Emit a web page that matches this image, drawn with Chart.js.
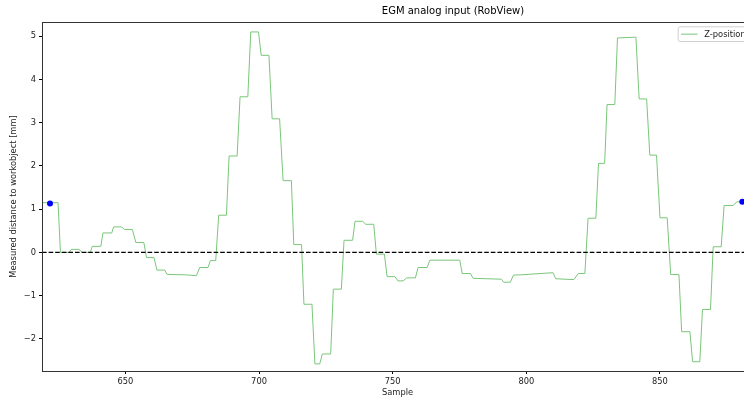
<!DOCTYPE html>
<html>
<head>
<meta charset="utf-8">
<script src="https://cdn.jsdelivr.net/npm/chart.js@4.4.1/dist/chart.umd.min.js"></script>
<style>
  html, body { margin: 0; padding: 0; overflow: hidden; background: #fff; }
  canvas { display: block; }
</style>
</head>
<body>
<canvas id="egmChart" width="906" height="399"></canvas>
<script>
// Z-position trace (sample, mm) at the step corners
const sampleX = [618, 624.8, 625.7, 628.9, 629.8, 632.6, 633.9, 636.9, 637.6, 640.8,
  641.6, 644.9, 645.6, 648.5, 649.7, 652.6, 653.9, 656.9, 657.9, 660.7,
  661.8, 664.7, 665.6, 672.8, 676.6, 677.8, 680.9, 681.8, 683.8, 684.9,
  687.8, 688.8, 691.8, 692.9, 695.8, 696.9, 699.8, 700.8, 703.7, 704.9,
  707.7, 709, 712.1, 713, 715.9, 716.8, 719.8, 720.9, 722.7, 723.7,
  726.8, 727.8, 730.8, 731.8, 735, 735.9, 738.7, 739.9, 742.9, 743.9,
  746.9, 747.9, 750.8, 752, 753.9, 755.2, 758.5, 759.5, 762.9, 763.9,
  775.1, 776, 779.1, 780.1, 790.7, 791.5, 794, 795.2, 797.6, 810,
  811, 817.8, 819.4, 821.9, 823.1, 826, 827, 829.3, 830.2, 833.1,
  834.1, 841, 842.2, 845, 846.2, 848.7, 850, 852.7, 854, 857.1,
  858.1, 861.2, 862.2, 864.9, 865.9, 868.9, 869.9, 872.9, 874, 877.4,
  878.7, 886];
const zPos = [1.15, 1.15, 0.0, 0.0, 0.07, 0.07, 0.0, 0.0, 0.14, 0.14,
  0.45, 0.45, 0.59, 0.59, 0.53, 0.53, 0.23, 0.23, -0.12, -0.12,
  -0.41, -0.41, -0.51, -0.52, -0.54, -0.35, -0.35, -0.19, -0.19, 0.86,
  0.86, 2.23, 2.23, 3.6, 3.6, 5.1, 5.1, 4.56, 4.56, 3.09,
  3.09, 1.66, 1.66, 0.18, 0.18, -1.2, -1.2, -2.58, -2.58, -2.35,
  -2.35, -0.85, -0.85, 0.28, 0.28, 0.72, 0.72, 0.65, 0.65, -0.04,
  -0.04, -0.56, -0.56, -0.66, -0.66, -0.59, -0.59, -0.35, -0.35, -0.18,
  -0.18, -0.49, -0.49, -0.6, -0.62, -0.69, -0.69, -0.525, -0.52, -0.47,
  -0.61, -0.63, -0.49, -0.49, 0.79, 0.79, 2.06, 2.06, 3.42, 3.42,
  4.96, 4.98, 3.55, 3.55, 2.25, 2.25, 0.8, 0.8, -0.51, -0.51,
  -1.835, -1.835, -2.53, -2.53, -1.32, -1.32, 0.13, 0.13, 1.085, 1.085,
  1.17, 1.17];

// blue markers at start / end sample
const markerX = [621.8, 880.8];
const markerY = [1.13, 1.17];

// axis limits and ticks
const xLimits = [618.8, 884.8];
const yLimits = [-2.744, 5.33];
const xTickStep = 50;
const yTickStep = 1;

const toPoints = (xs, ys) => xs.map((x, i) => ({ x: x, y: ys[i] }));

// frame on all four sides + matplotlib-style legend inside the axes
const framePlugin = {
  id: 'frame',
  afterDraw(chart) {
    const { ctx, chartArea: a } = chart;
    ctx.save();
    ctx.strokeStyle = '#333';
    ctx.lineWidth = 1;
    ctx.strokeRect(Math.round(a.left) + 0.5, Math.round(a.top) + 0.5,
      Math.round(a.right - a.left), Math.round(a.bottom - a.top));

    // legend
    const label = chart.data.datasets[0].label;
    ctx.font = '8.3px "DejaVu Sans"';
    const tw = ctx.measureText(label).width;
    const h = 14.7;
    const w = 3.3 + 16.6 + 6.7 + tw + 3.3;
    const bx = a.right - 4 - w;
    const by = a.top + 4.3;
    ctx.fillStyle = 'rgba(255,255,255,0.8)';
    ctx.strokeStyle = '#d0d0d0';
    ctx.lineWidth = 1;
    ctx.beginPath();
    ctx.roundRect(bx + 0.5, by + 0.5, w, h, 2);
    ctx.fill();
    ctx.stroke();
    ctx.strokeStyle = chart.data.datasets[0].borderColor;
    ctx.beginPath();
    ctx.moveTo(bx + 3.3, by + h / 2 + 0.5);
    ctx.lineTo(bx + 3.3 + 16.6, by + h / 2 + 0.5);
    ctx.stroke();
    ctx.fillStyle = '#222';
    ctx.textBaseline = 'middle';
    ctx.fillText(label, bx + 3.3 + 16.6 + 6.7, by + h / 2 + 1);
    ctx.restore();
  }
};

Chart.defaults.font.family = '"DejaVu Sans", sans-serif';
Chart.defaults.color = '#222';

const ctx = document.getElementById('egmChart').getContext('2d');
const egmChart = new Chart(ctx, {
  type: 'line',
  data: {
    datasets: [
      {
        label: 'Z-position',
        data: toPoints(sampleX, zPos),
        borderColor: 'rgb(122, 198, 122)',
        borderWidth: 1,
        pointRadius: 0,
        tension: 0,
        fill: false,
        order: 2
      },
      {
        label: 'zero',
        data: toPoints(xLimits, [0, 0]),
        borderColor: '#000',
        borderWidth: 1.4,
        borderDash: [4.6, 2],
        pointRadius: 0,
        fill: false,
        order: 1
      },
      {
        label: 'ends',
        data: toPoints(markerX, markerY),
        showLine: false,
        pointRadius: 3,
        pointBackgroundColor: '#0000ff',
        pointBorderColor: '#0000ff',
        pointBorderWidth: 0,
        order: 0
      }
    ]
  },
  options: {
    responsive: false,
    animation: false,
    devicePixelRatio: 1,
    layout: { padding: 0 },
    plugins: {
      legend: { display: false },
      tooltip: { enabled: false },
      title: {
        display: true,
        text: 'EGM analog input (RobView)',
        color: '#000',
        font: { size: 10, weight: 'normal' },
        padding: { top: 5, bottom: 5 }
      }
    },
    scales: {
      x: {
        type: 'linear',
        min: xLimits[0],
        max: xLimits[1],
        afterFit: (scale) => { scale.height = 28; },
        border: { display: false },
        grid: { drawOnChartArea: false, drawTicks: true, tickLength: 3, color: '#000' },
        ticks: {
          stepSize: xTickStep,
          includeBounds: false,
          autoSkip: false,
          maxRotation: 0,
          padding: 3,
          font: { size: 8.3 }
        },
        title: {
          display: true,
          text: 'Sample',
          font: { size: 8.3 },
          padding: { top: 0, bottom: 1 }
        }
      },
      y: {
        type: 'linear',
        min: yLimits[0],
        max: yLimits[1],
        afterFit: (scale) => { scale.width = 42; },
        border: { display: false },
        grid: { drawOnChartArea: false, drawTicks: true, tickLength: 3, color: '#000' },
        ticks: {
          stepSize: yTickStep,
          includeBounds: false,
          padding: 3,
          font: { size: 8.3 },
          callback: (v) => String(v).replace('-', '\u2212')
        },
        title: {
          display: true,
          text: 'Measured distance to workobject [mm]',
          font: { size: 8.3 },
          padding: { top: 9, bottom: 0 }
        }
      },
      // empty right-hand margin of the original figure (cut off in the picture)
      margin: {
        type: 'linear',
        position: 'right',
        afterFit: (scale) => { scale.width = 153; },
        border: { display: false },
        grid: { display: false },
        ticks: { display: false }
      }
    }
  },
  plugins: [framePlugin]
});
</script>
</body>
</html>
